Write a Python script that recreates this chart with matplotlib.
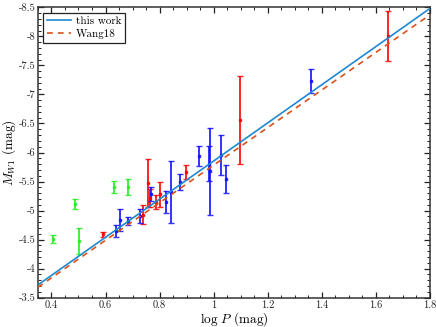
import matplotlib
matplotlib.use("Agg")
import matplotlib.pyplot as plt
from matplotlib.ticker import MultipleLocator, FuncFormatter

plt.rcParams['font.family'] = 'serif'
plt.rcParams['font.serif'] = ['cmr10', 'DejaVu Serif']
plt.rcParams['mathtext.fontset'] = 'cm'
plt.rcParams['axes.unicode_minus'] = False
plt.rcParams['axes.formatter.use_mathtext'] = False

# ---- data ----
green_logP = [0.407, 0.486, 0.501, 0.631, 0.682]
green_M = [-4.51, -5.11, -4.48, -5.41, -5.41]
green_err = [0.07, 0.09, 0.22, 0.10, 0.14]

red_logP = [0.589, 0.738, 0.757, 0.765, 0.787, 0.800, 0.896, 1.098, 1.645]
red_M = [-4.59, -4.93, -5.47, -5.22, -5.14, -5.28, -5.66, -6.56, -8.01]
red_err = [0.04, 0.16, 0.41, 0.15, 0.12, 0.22, 0.12, 0.76, 0.43]

blue_logP = [0.637, 0.655, 0.683, 0.728, 0.767, 0.825, 0.841, 0.874, 0.945,
             0.982, 0.987, 1.028, 1.044, 1.360]
blue_M = [-4.65, -4.84, -4.82, -4.90, -5.29, -5.14, -5.32, -5.49, -5.94,
          -5.81, -5.68, -5.96, -5.54, -7.23]
blue_err = [0.10, 0.19, 0.07, 0.12, 0.12, 0.19, 0.53, 0.14, 0.18,
            0.30, 0.75, 0.34, 0.24, 0.21]

fit_logP = [0.35, 1.80]
this_work_M = [-3.72, -8.48]
wang18_M = [-3.68, -8.37]

xticks = [0.4, 0.6, 0.8, 1.0, 1.2, 1.4, 1.6, 1.8]
yticks = [-8.5, -8, -7.5, -7, -6.5, -6, -5.5, -5, -4.5, -4, -3.5]

# ---- plot ----
fig = plt.figure(figsize=(4.36, 3.27), dpi=100)
ax = fig.add_axes([0.087, 0.0896, 0.899, 0.888])

ekw = dict(fmt='s', ms=2.0, capsize=2, elinewidth=1.4, capthick=1.0, alpha=0.85, zorder=3)
ax.errorbar(green_logP, green_M, yerr=green_err, color='#22ee22', **ekw)
ax.errorbar(red_logP, red_M, yerr=red_err, color='#ff0000', **ekw)
ax.errorbar(blue_logP, blue_M, yerr=blue_err, color='#1010ff', **ekw)

ax.plot(fit_logP, this_work_M, color='#1f88d2', lw=1.2, label='this work', zorder=4)
ax.plot(fit_logP, wang18_M, color='#d95319', lw=1.2, ls=(0, (3.5, 3)), label='Wang18', zorder=4)

ax.set_xlim(0.35, 1.8)
ax.set_ylim(-3.5, -8.5)
ax.set_xticks(xticks)
ax.set_yticks(yticks)
fmt = FuncFormatter(lambda v, p: '%g' % v)
ax.xaxis.set_major_formatter(fmt)
ax.yaxis.set_major_formatter(fmt)
ax.xaxis.set_minor_locator(MultipleLocator(0.05))
ax.yaxis.set_minor_locator(MultipleLocator(0.1))
ax.tick_params(which='both', direction='in', top=True, right=True, labelsize=7.5,
               colors='#222222', pad=2)
ax.tick_params(which='major', length=4, width=0.9)
ax.tick_params(which='minor', length=2, width=0.7)
for s in ax.spines.values():
    s.set_linewidth(1.1)
    s.set_color('#333333')

ax.set_xlabel(r'$\log\,P$ (mag)', fontsize=9.5, labelpad=0)
ax.set_ylabel(r'$M_{W1}$ (mag)', fontsize=9.5, labelpad=0)

leg = ax.legend(loc='upper left', fontsize=8, fancybox=False, framealpha=1,
                edgecolor='#222222', handlelength=2.2, borderpad=0.3,
                labelspacing=0.3, handletextpad=0.4, borderaxespad=0.5)
leg.get_frame().set_linewidth(0.9)

fig.savefig('out.png', dpi=100)
